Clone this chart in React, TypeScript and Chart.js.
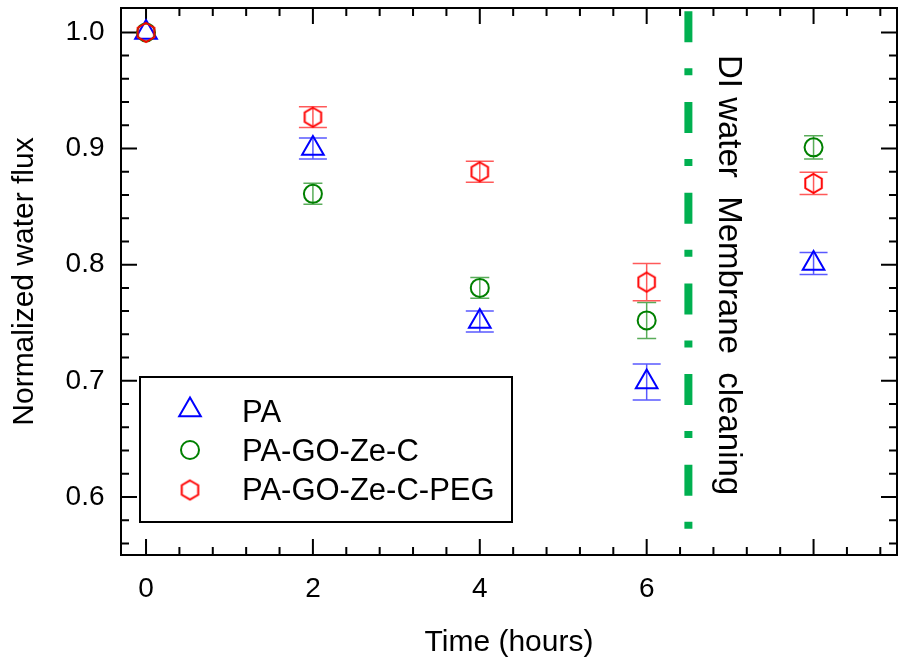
import React, { useEffect, useRef } from 'react';
import { Chart, registerables } from 'chart.js';
import { drawPoint } from 'chart.js/helpers';

Chart.register(...registerables);

const times = [0, 2, 4, 6, 8];
const paValues = [1.0, 0.9, 0.751, 0.699, 0.801];
const paErrors = [0, 0.009, 0.009, 0.0155, 0.0095];
const goValues = [1.0, 0.861, 0.78, 0.752, 0.901];
const goErrors = [0, 0.009, 0.009, 0.0155, 0.01];
const pegValues = [1.0, 0.927, 0.88, 0.785, 0.87];
const pegErrors = [0, 0.009, 0.009, 0.016, 0.0095];
const seriesNames = ['PA', 'PA-GO-Ze-C', 'PA-GO-Ze-C-PEG'];
const xTickValues = [0, 2, 4, 6, 8];
const xTickLabels = ['0', '2', '4', '6', ''];
const yTickValues = [0.6, 0.7, 0.8, 0.9, 1.0];
const yTickLabels = ['0.6', '0.7', '0.8', '0.9', '1.0'];
const cleaningTime = 6.5;
const annotationText = 'DI water  Membrane  cleaning';

const FONT = "'Liberation Sans', Arial, sans-serif";

function makeHexagon(color: string, r: number, lw: number): HTMLCanvasElement {
  const size = Math.ceil(2 * r + lw + 4);
  const c = document.createElement('canvas');
  c.width = size;
  c.height = size;
  const g = c.getContext('2d')!;
  const cx = size / 2;
  const cy = size / 2;
  g.beginPath();
  for (let k = 0; k < 6; k++) {
    const a = -Math.PI / 2 + (k * Math.PI) / 3;
    const px = cx + r * Math.cos(a);
    const py = cy + r * Math.sin(a);
    if (k === 0) g.moveTo(px, py);
    else g.lineTo(px, py);
  }
  g.closePath();
  g.strokeStyle = color;
  g.lineWidth = lw;
  g.stroke();
  return c;
}

export default function App() {
  const ref = useRef<HTMLCanvasElement | null>(null);

  useEffect(() => {
    document.body.style.margin = '0';
    const canvas = ref.current!;
    const hex = makeHexagon('#FF0000', 9.5, 2);

    const errorSets = [
      { errors: paErrors, color: 'rgba(0,0,255,0.65)', cap: 14 },
      { errors: goErrors, color: 'rgba(0,128,0,0.65)', cap: 9.5 },
      { errors: pegErrors, color: 'rgba(255,0,0,0.65)', cap: 14 },
    ];

    const errorBarPlugin = {
      id: 'errorBars',
      beforeDatasetsDraw(chart: any) {
        const ctx = chart.ctx;
        const ys = chart.scales.y;
        chart.data.datasets.forEach((ds: any, di: number) => {
          const meta = chart.getDatasetMeta(di);
          const es = errorSets[di];
          ds.data.forEach((pt: any, i: number) => {
            const e = es.errors[i];
            if (!e) return;
            const x = meta.data[i].x;
            const y1 = ys.getPixelForValue(pt.y + e);
            const y2 = ys.getPixelForValue(pt.y - e);
            ctx.save();
            ctx.strokeStyle = es.color;
            ctx.lineWidth = 1.5;
            ctx.beginPath();
            ctx.moveTo(x, y1);
            ctx.lineTo(x, y2);
            ctx.moveTo(x - es.cap, y1);
            ctx.lineTo(x + es.cap, y1);
            ctx.moveTo(x - es.cap, y2);
            ctx.lineTo(x + es.cap, y2);
            ctx.stroke();
            ctx.restore();
          });
        });
      },
    };

    const decorPlugin = {
      id: 'decor',
      beforeDatasetsDraw(chart: any) {
        const ctx = chart.ctx;
        const { left, right, top, bottom } = chart.chartArea;
        const xs = chart.scales.x;
        const ys = chart.scales.y;
        // cleaning line
        const cx = xs.getPixelForValue(cleaningTime);
        ctx.save();
        ctx.strokeStyle = '#00B050';
        ctx.lineWidth = 8;
        ctx.setLineDash([31, 26, 7, 26.7]);
        ctx.lineDashOffset = -3.3;
        ctx.beginPath();
        ctx.moveTo(cx, top);
        ctx.lineTo(cx, bottom);
        ctx.stroke();
        ctx.restore();
        // annotation
        ctx.save();
        ctx.translate(cx + 31, 55);
        ctx.rotate(Math.PI / 2);
        ctx.font = `33px ${FONT}`;
        ctx.fillStyle = '#000';
        ctx.textAlign = 'left';
        ctx.textBaseline = 'alphabetic';
        ctx.fillText(annotationText, 0, 0);
        ctx.restore();

        // frame and ticks
        ctx.save();
        ctx.strokeStyle = '#000';
        ctx.lineWidth = 2;
        ctx.beginPath();
        const xMin = xs.min, xMax = xs.max, yMin = ys.min, yMax = ys.max;
        for (let k = -10; k <= 30; k++) {
          const v = Math.round(k * 0.4 * 1000) / 1000;
          if (v < xMin || v > xMax) continue;
          const major = Math.abs(v / 2 - Math.round(v / 2)) < 1e-6;
          const len = major ? 16 : 8;
          const px = xs.getPixelForValue(v);
          ctx.moveTo(px, bottom);
          ctx.lineTo(px, bottom - len);
          ctx.moveTo(px, top);
          ctx.lineTo(px, top + len);
        }
        for (let k = 0; k <= 60; k++) {
          const v = Math.round(k * 0.02 * 1000) / 1000;
          if (v < yMin || v > yMax - 0.005) continue;
          const major = Math.abs(v * 10 - Math.round(v * 10)) < 1e-6;
          const len = major ? 16 : 8;
          const py = ys.getPixelForValue(v);
          ctx.moveTo(left, py);
          ctx.lineTo(left + len, py);
          ctx.moveTo(right, py);
          ctx.lineTo(right - len, py);
        }
        ctx.stroke();
        ctx.strokeRect(left, top, right - left, bottom - top);
        ctx.restore();
      },
      afterDraw(chart: any) {
        const ctx = chart.ctx;
        ctx.save();
        ctx.strokeStyle = '#000';
        ctx.lineWidth = 2;
        ctx.fillStyle = '#fff';
        ctx.fillRect(140, 377, 372, 145);
        ctx.strokeRect(140, 377, 372, 145);
        const rows = [410, 450, 490];
        const bases = [422, 461, 500];
        chart.data.datasets.forEach((ds: any, i: number) => {
          ctx.save();
          ctx.strokeStyle = ds.borderColor;
          ctx.fillStyle = 'rgba(0,0,0,0)';
          ctx.lineWidth = 2;
          drawPoint(ctx, { pointStyle: ds.pointStyle, radius: ds.pointRadius, rotation: 0, borderWidth: 2 } as any, 190, rows[i]);
          ctx.restore();
          ctx.fillStyle = '#000';
          ctx.font = `31px ${FONT}`;
          ctx.textAlign = 'left';
          ctx.textBaseline = 'alphabetic';
          ctx.fillText(seriesNames[i], 242, bases[i]);
        });
        ctx.restore();
      },
    };

    const chart = new Chart(canvas, {
      type: 'scatter',
      data: {
        datasets: [
          {
            label: seriesNames[0],
            data: times.map((t, i) => ({ x: t, y: paValues[i] })),
            pointStyle: 'triangle',
            pointRadius: 12.5,
            borderColor: '#0000FF',
            backgroundColor: 'rgba(0,0,0,0)',
            borderWidth: 2,
            order: 3,
          },
          {
            label: seriesNames[1],
            data: times.map((t, i) => ({ x: t, y: goValues[i] })),
            pointStyle: 'circle',
            pointRadius: 9,
            borderColor: '#008000',
            backgroundColor: 'rgba(0,0,0,0)',
            borderWidth: 2,
            order: 2,
          },
          {
            label: seriesNames[2],
            data: times.map((t, i) => ({ x: t, y: pegValues[i] })),
            pointStyle: hex as any,
            pointRadius: 9.5,
            borderColor: '#FF0000',
            backgroundColor: 'rgba(0,0,0,0)',
            borderWidth: 2,
            order: 1,
          },
        ] as any,
      },
      options: {
        animation: false,
        responsive: false,
        events: [],
        layout: { autoPadding: false, padding: { top: 8, right: 2, left: 0, bottom: 0 } },
        plugins: { legend: { display: false }, tooltip: { enabled: false } },
        scales: {
          x: {
            type: 'linear',
            min: -0.3,
            max: 9.0,
            grid: { display: false, drawTicks: false },
            border: { display: false },
            afterBuildTicks: (s: any) => {
              s.ticks = xTickValues.map((v) => ({ value: v }));
            },
            afterFit: (s: any) => {
              s.height = 111;
              s.paddingLeft = 0;
              s.paddingRight = 0;
              s.paddingTop = 0;
              s.paddingBottom = 0;
            },
            ticks: {
              callback: (_v: any, i: number) => xTickLabels[i],
              font: { family: FONT, size: 28 },
              color: '#000',
              padding: 17,
              maxRotation: 0,
              autoSkip: false,
            },
            title: {
              display: true,
              text: 'Time (hours)',
              font: { family: FONT, size: 30 },
              color: '#000',
              padding: { top: 0, bottom: 5 },
            },
          },
          y: {
            type: 'linear',
            min: 0.55,
            max: 1.021,
            grid: { display: false, drawTicks: false },
            border: { display: false },
            afterBuildTicks: (s: any) => {
              s.ticks = yTickValues.map((v) => ({ value: v }));
            },
            afterFit: (s: any) => {
              s.width = 121;
              s.paddingLeft = 0;
              s.paddingRight = 0;
              s.paddingTop = 0;
              s.paddingBottom = 0;
            },
            ticks: {
              callback: (_v: any, i: number) => yTickLabels[i],
              font: { family: FONT, size: 28 },
              color: '#000',
              padding: 16.5,
              autoSkip: false,
            },
            title: {
              display: true,
              text: 'Normalized water flux',
              font: { family: FONT, size: 30 },
              color: '#000',
              padding: { top: 7, bottom: 0 },
            },
          },
        },
      },
      plugins: [errorBarPlugin, decorPlugin],
    });

    return () => chart.destroy();
  }, []);

  return (
    <div style={{ width: 899, height: 666, background: '#fff' }}>
      <canvas ref={ref} width={899} height={666} style={{ display: 'block' }} />
    </div>
  );
}
